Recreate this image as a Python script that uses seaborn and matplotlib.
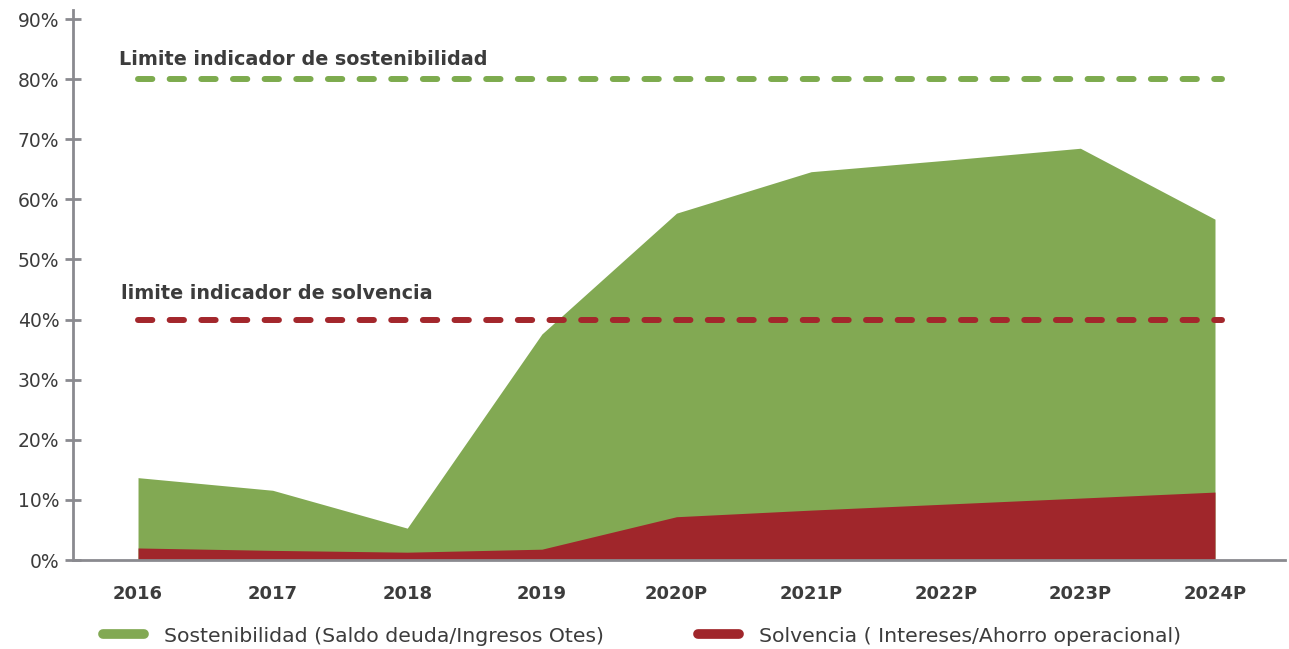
import numpy as np
import matplotlib
matplotlib.use("Agg")
import matplotlib.pyplot as plt
from matplotlib.lines import Line2D
import pandas as pd
import seaborn as sns

# datos (fracciones)
years = ["2016", "2017", "2018", "2019", "2020P", "2021P", "2022P", "2023P", "2024P"]
sostenibilidad = [0.137, 0.116, 0.053, 0.376, 0.577, 0.646, 0.665, 0.685, 0.567]
solvencia = [0.020, 0.016, 0.013, 0.018, 0.072, 0.083, 0.093, 0.103, 0.113]
limite_sost = 0.80
limite_solv = 0.40
yticks = [0.0, 0.1, 0.2, 0.3, 0.4, 0.5, 0.6, 0.7, 0.8, 0.9]

lbl_sost = "Sostenibilidad (Saldo deuda/Ingresos Otes)"
lbl_solv = "Solvencia ( Intereses/Ahorro operacional)"
txt_sost = "Limite indicador de sostenibilidad"
txt_solv = "limite indicador de solvencia"

verde = "#82a953"
rojo = "#a0262b"
verde_lim = "#7dab4e"
rojo_lim = "#a3272c"
gris = "#8a8a8f"
texto = "#3c3c3c"

sns.set_theme(style="white")
plt.rcParams["font.family"] = ["DejaVu Sans"]

df = pd.DataFrame({"anio": years, "sost": sostenibilidad, "solv": solvencia})
x = np.arange(len(df))

fig = plt.figure(figsize=(12.89, 6.49), dpi=100)
ax = fig.add_axes([73 / 1289, 1 - 560 / 649, (1285 - 73) / 1289, 550 / 649])

ax.fill_between(x, 0, df["sost"], color=verde, linewidth=0)
ax.fill_between(x, 0, df["solv"], color=rojo, linewidth=0)

# lineas limite
lim = pd.DataFrame({"x": [x[0], x[-1] + 0.05]})
for val, col in [(limite_sost, verde_lim), (limite_solv, rojo_lim)]:
    ln, = ax.plot(lim["x"], [val, val], color=col, lw=4.3,
                  dash_capstyle="round")
    ln.set_dashes((2.4, 2.9))

ax.text(-0.141, limite_sost + 0.033, txt_sost, fontsize=13.8,
        fontweight="bold", color=texto, va="center", ha="left")
ax.text(-0.126, limite_solv + 0.044, txt_solv, fontsize=13.8,
        fontweight="bold", color=texto, va="center", ha="left")

ax.set_xlim(-0.483, 8.52)
ax.set_ylim(0, 0.915)
ax.set_xticks(x)
ax.set_xticklabels(years, fontsize=13, fontweight="bold", color=texto)
ax.set_yticks(yticks)
ax.set_yticklabels([f"{int(round(v * 100))}%" for v in yticks],
                   fontsize=13.5, color=texto)

for s in ["top", "right"]:
    ax.spines[s].set_visible(False)
for s in ["left", "bottom"]:
    ax.spines[s].set_color(gris)
    ax.spines[s].set_linewidth(2)

ax.tick_params(axis="y", direction="inout", length=11.5, width=2,
               color=gris, pad=4, left=True)
ax.tick_params(axis="x", length=0, pad=18)
ax.set_xlabel("")
ax.set_ylabel("")

handles = [Line2D([0], [0], color=verde, lw=7, solid_capstyle="round"),
           Line2D([0], [0], color=rojo, lw=7, solid_capstyle="round")]
leg = fig.legend(handles, [lbl_sost, lbl_solv], loc="center left",
                 bbox_to_anchor=(103 / 1289, 1 - 636 / 649), ncol=2,
                 frameon=False, fontsize=14.7, handlelength=2.0,
                 handletextpad=1.0, columnspacing=4.6, borderpad=0,
                 borderaxespad=0)
for t in leg.get_texts():
    t.set_color(texto)

fig.savefig("out.png", dpi=100)
